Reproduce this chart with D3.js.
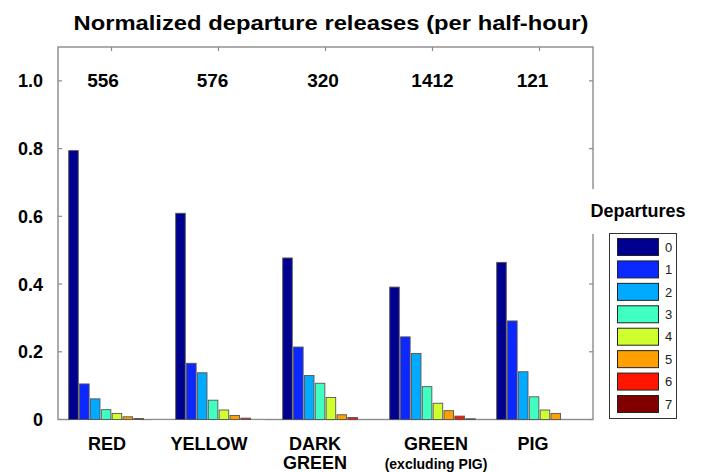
<!DOCTYPE html>
<html>
<head>
<meta charset="utf-8">
<script src="https://cdn.jsdelivr.net/npm/d3@7"></script>
<style>
  html, body { margin: 0; padding: 0; background: #fff; }
  svg { display: block; font-family: "Liberation Sans", Arial, sans-serif; }
</style>
</head>
<body>
<svg id="chart" width="704" height="472"></svg>
<script>
// ---- data ----
const categories = ["RED", "YELLOW", "DARK GREEN", "GREEN", "PIG"];
const categoryLines = [["RED"], ["YELLOW"], ["DARK", "GREEN"], ["GREEN", "(excluding PIG)"], ["PIG"]];
const counts = ["556", "576", "320", "1412", "121"];
const departures = ["0", "1", "2", "3", "4", "5", "6", "7"];
const dep0 = [0.794, 0.609, 0.477, 0.391, 0.464];
const dep1 = [0.105, 0.166, 0.214, 0.244, 0.291];
const dep2 = [0.061, 0.138, 0.130, 0.195, 0.141];
const dep3 = [0.029, 0.057, 0.107, 0.097, 0.067];
const dep4 = [0.018, 0.028, 0.065, 0.048, 0.028];
const dep5 = [0.008, 0.012, 0.014, 0.026, 0.018];
const dep6 = [0.003, 0.004, 0.006, 0.010, 0.000];
const dep7 = [0.000, 0.000, 0.000, 0.002, 0.000];
const yTicks = [0, 0.2, 0.4, 0.6, 0.8, 1.0];
const yTickLabels = ["0", "0.2", "0.4", "0.6", "0.8", "1.0"];
const colors = ["#000090", "#0a28ff", "#00aaff", "#40ffc0", "#d0ff30", "#ffa000", "#ff1500", "#800000"];

const series = [dep0, dep1, dep2, dep3, dep4, dep5, dep6, dep7];

// ---- layout ----
const svg = d3.select("#chart");
const L = 58, R = 593, T = 47, B = 419.5;

const x0 = d3.scaleBand().domain(categories).range([L, R]).paddingInner(0.2).paddingOuter(0.1);
const x1 = d3.scaleBand().domain(departures).range([0, x0.bandwidth()]).paddingInner(0.12);
const y = d3.scaleLinear().domain([0, 1.1]).range([B, T]);

const frameColor = "#8a8a8a";

// frame
svg.append("rect").attr("x", L).attr("y", T).attr("width", R - L).attr("height", B - T)
  .attr("fill", "#fff").attr("stroke", frameColor).attr("stroke-width", 1.4);

// y ticks (inward, both sides)
const tk = svg.append("g").attr("stroke", frameColor).attr("stroke-width", 1.2);
yTicks.forEach(v => {
  tk.append("line").attr("x1", L).attr("x2", L + 4).attr("y1", y(v)).attr("y2", y(v));
  tk.append("line").attr("x1", R).attr("x2", R - 4).attr("y1", y(v)).attr("y2", y(v));
});
// top ticks at category centres
categories.forEach(c => {
  const cx = x0(c) + x0.bandwidth() / 2;
  tk.append("line").attr("x1", cx).attr("x2", cx).attr("y1", T).attr("y2", T + 4);
});

// y tick labels
svg.append("g").selectAll("text").data(yTicks).join("text")
  .attr("x", 43).attr("y", d => y(d)).attr("dy", "0.36em")
  .attr("text-anchor", "end").attr("font-size", 18).attr("font-weight", "bold")
  .text((d, i) => yTickLabels[i]);

// bars
const groups = svg.append("g").selectAll("g").data(categories).join("g")
  .attr("transform", c => `translate(${x0(c)},0)`);
groups.selectAll("rect").data((c, ci) => departures.map((d, di) => ({ d, di, v: series[di][ci] })))
  .join("rect")
  .attr("x", o => x1(o.d)).attr("width", x1.bandwidth())
  .attr("y", o => y(o.v)).attr("height", o => B - y(o.v))
  .attr("fill", o => colors[o.di])
  .attr("stroke", "#555").attr("stroke-width", 0.9);

// white label boxes overlapping the baseline
svg.append("rect").attr("x", 71).attr("y", 420.3).attr("width", 70).attr("height", 4).attr("fill", "#fff");
svg.append("rect").attr("x", 152).attr("y", 420.3).attr("width", 113).attr("height", 4).attr("fill", "#fff");

// counts above groups
const countOffsets = [-8.5, -6, -2.5, 0, -7];
svg.append("g").selectAll("text").data(categories).join("text")
  .attr("x", (c, i) => x0(c) + x0.bandwidth() / 2 + countOffsets[i]).attr("y", 87)
  .attr("text-anchor", "middle").attr("font-size", 19).attr("font-weight", "bold")
  .text((c, i) => counts[i]);

// category labels
const labelOffsets = [-4.5, -9.5, -10.5, 3.5, -6.5];
categories.forEach((c, i) => {
  const cx = x0(c) + x0.bandwidth() / 2 + labelOffsets[i];
  categoryLines[i].forEach((line, li) => {
    const small = line.startsWith("(");
    svg.append("text").attr("x", cx).attr("y", li === 0 ? 450 : 469)
      .attr("text-anchor", "middle").attr("font-weight", "bold")
      .attr("font-size", small ? 14 : 18).text(line);
  });
});

// title
svg.append("text").attr("x", 331).attr("y", 30).attr("text-anchor", "middle")
  .attr("font-size", 21).attr("font-weight", "bold")
  .attr("textLength", 515).attr("lengthAdjust", "spacingAndGlyphs")
  .text("Normalized departure releases (per half-hour)");

// legend title (white box covers the right frame)
svg.append("rect").attr("x", 582).attr("y", 189).attr("width", 120).attr("height", 45).attr("fill", "#fff");
svg.append("text").attr("x", 638).attr("y", 217).attr("text-anchor", "middle")
  .attr("font-size", 18).attr("font-weight", "bold").text("Departures");

// legend
const lg = svg.append("g");
lg.append("rect").attr("x", 609.5).attr("y", 233.5).attr("width", 67).attr("height", 185)
  .attr("fill", "#fff").attr("stroke", "#333").attr("stroke-width", 1);
const ly = d3.scalePoint().domain(departures).range([238, 395]);
lg.selectAll("rect.sw").data(departures).join("rect").attr("class", "sw")
  .attr("x", 617.5).attr("y", d => ly(d) + 0.5).attr("width", 41).attr("height", 17)
  .attr("fill", (d, i) => colors[i]).attr("stroke", "#222").attr("stroke-width", 1);
lg.selectAll("text").data(departures).join("text")
  .attr("x", 665).attr("y", d => ly(d) + 9).attr("dy", "0.36em")
  .attr("font-size", 13).attr("fill", "#222").text(d => d);
</script>
</body>
</html>
